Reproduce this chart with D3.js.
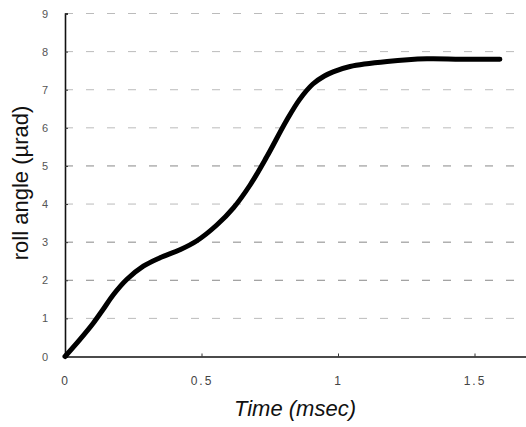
<!DOCTYPE html>
<html lang="en">
<head>
  <meta charset="UTF-8">
  <title>roll angle</title>
  <style>
    body { margin: 0; background: #fff; }
    text { font-family: "Liberation Sans", Arial, sans-serif; }
  </style>
</head>
<body>
  <script src="https://d3js.org/d3.v7.min.js"></script>
  <div id="chart"></div>

  <script>
    // data
    const timeMs = [0, 0.055, 0.104, 0.14, 0.177, 0.226, 0.287, 0.348, 0.421, 0.482, 0.556, 0.617,
      0.678, 0.739, 0.812, 0.861, 0.908, 0.95, 0.982, 1.044, 1.18, 1.326, 1.45, 1.593]
    const rollAngle = [0, 0.45, 0.88, 1.24, 1.62, 2.02, 2.37, 2.59, 2.8, 3.03, 3.45, 3.9,
      4.5, 5.24, 6.2, 6.76, 7.15, 7.36, 7.47, 7.61, 7.74, 7.81, 7.8, 7.8]
    const yTicks = [0, 1, 2, 3, 4, 5, 6, 7, 8, 9]
    const xTicks = [0, 0.5, 1, 1.5]

    const data = timeMs.map((t, i) => ({t: t, v: rollAngle[i]}))

    const width = 526, height = 427

    const x = d3.scaleLinear().domain([0, 1.7]).range([65, 65 + 1.7 * 273])
    const y = d3.scaleLinear().domain([0, 9]).range([356.5, 13.5])

    const svg = d3.select('#chart')
      .append('svg')
      .attr('width', width)
      .attr('height', height)

    // grid lines
    svg.append('g')
      .selectAll('line')
      .data(yTicks.filter(d => d > 0))
      .join('line')
      .attr('x1', x(0))
      .attr('x2', width)
      .attr('y1', d => y(d))
      .attr('y2', d => y(d))
      .attr('stroke', d => (d === 2 || d === 3 || d === 5) ? '#888' : '#bbb')
      .attr('stroke-width', 1)
      .attr('stroke-dasharray', '8,13')

    // y axis
    const yAxis = svg.append('g')
      .attr('transform', `translate(${x(0)},0)`)
      .call(d3.axisLeft(y).tickValues(yTicks).tickSize(-3).tickPadding(17).tickFormat(d3.format('d')))
    yAxis.select('.domain').attr('stroke', '#111').attr('stroke-width', 1.6)
    yAxis.selectAll('.tick line').attr('stroke', '#333')
    yAxis.selectAll('text').attr('font-size', 11).attr('fill', '#555')

    // x axis
    const xAxis = svg.append('g')
      .attr('transform', `translate(0,${y(0)})`)
      .call(d3.axisBottom(x).tickValues(xTicks).tickSize(-3).tickPadding(20).tickFormat(d => d))
    xAxis.select('.domain').attr('stroke', '#111').attr('stroke-width', 1.6)
    xAxis.selectAll('.tick line').attr('stroke', '#333')
    xAxis.selectAll('text').attr('font-size', 12).attr('fill', '#444').attr('letter-spacing', 2)

    // curve
    svg.append('path')
      .datum(data)
      .attr('fill', 'none')
      .attr('stroke', '#000')
      .attr('stroke-width', 5)
      .attr('stroke-linecap', 'round')
      .attr('stroke-linejoin', 'round')
      .attr('d', d3.line().x(d => x(d.t)).y(d => y(d.v)).curve(d3.curveCatmullRom.alpha(0.5)))

    // axis titles
    svg.append('text')
      .attr('x', 295)
      .attr('y', 416)
      .attr('text-anchor', 'middle')
      .attr('font-size', 22)
      .attr('font-style', 'italic')
      .attr('fill', '#111')
      .text('Time (msec)')

    svg.append('text')
      .attr('transform', 'translate(28,183) rotate(-90)')
      .attr('text-anchor', 'middle')
      .attr('font-size', 22)
      .attr('fill', '#111')
      .text('roll angle (µrad)')
  </script>
</body>
</html>
